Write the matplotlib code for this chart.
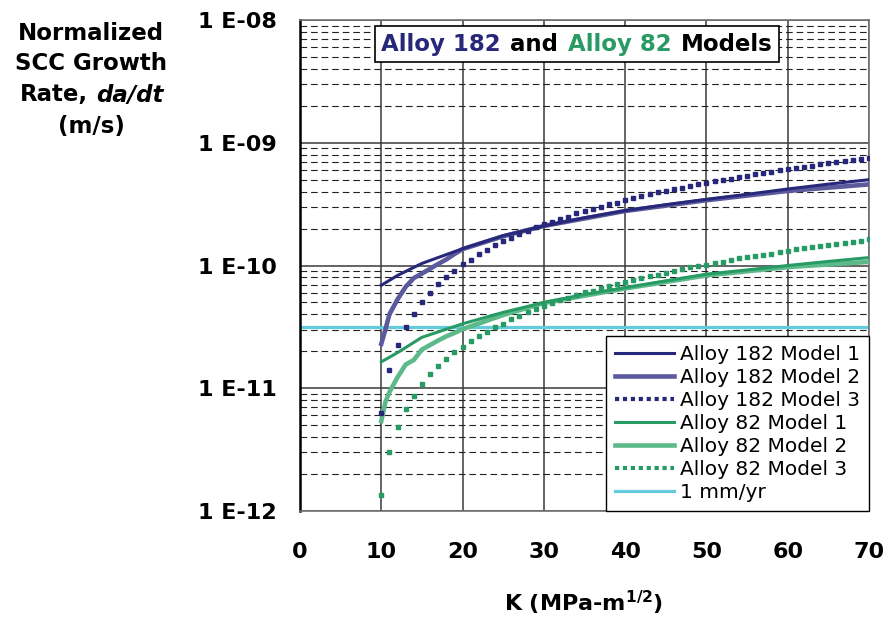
import numpy as np
import matplotlib
matplotlib.use('Agg')
import matplotlib.pyplot as plt
from matplotlib.ticker import LogLocator, FuncFormatter, NullFormatter, MultipleLocator
from matplotlib.lines import Line2D
from matplotlib.offsetbox import TextArea, HPacker, AnchoredOffsetbox

# --- data (K in MPa-m^1/2, da/dt in m/s) ---
k_m1 = [10, 12, 15, 20, 25, 30, 35, 40, 45, 50, 55, 60, 65, 70]
a182_m1 = [6.9e-11, 8.3e-11, 1.04e-10, 1.37e-10, 1.75e-10, 2.1e-10, 2.45e-10,
           2.8e-10, 3.13e-10, 3.46e-10, 3.8e-10, 4.2e-10, 4.6e-10, 5.0e-10]
a82_m1 = [1.64e-11, 1.95e-11, 2.6e-11, 3.35e-11, 4.15e-11, 5.0e-11, 5.8e-11,
          6.6e-11, 7.5e-11, 8.5e-11, 9.2e-11, 1.0e-10, 1.08e-10, 1.16e-10]

k_m2 = [10, 10.5, 11, 12, 13, 14, 15, 16, 17, 18, 19, 20, 25, 30, 40, 50, 60, 70]
a182_m2 = [2.3e-11, 3.0e-11, 4.0e-11, 5.3e-11, 6.7e-11, 7.9e-11, 8.6e-11, 9.4e-11, 1.03e-10,
           1.12e-10, 1.24e-10, 1.36e-10, 1.73e-10, 2.1e-10, 2.78e-10, 3.4e-10, 4.05e-10, 4.58e-10]
a82_m2 = [5.4e-12, 7.7e-12, 9.3e-12, 1.23e-11, 1.56e-11, 1.7e-11, 2.07e-11, 2.25e-11, 2.45e-11,
          2.65e-11, 2.82e-11, 3.03e-11, 3.95e-11, 4.95e-11, 6.5e-11, 8.3e-11, 9.7e-11, 1.07e-10]

k_m3 = list(range(10, 71))
a182_m3 = [6.3e-12, 1.41e-11, 2.26e-11, 3.17e-11, 4.05e-11, 5.06e-11, 5.98e-11, 7.05e-11, 8.04e-11, 9.04e-11,
           1.03e-10, 1.11e-10, 1.24e-10, 1.34e-10, 1.46e-10, 1.59e-10, 1.69e-10, 1.79e-10, 1.91e-10, 2.04e-10,
           2.17e-10, 2.26e-10, 2.38e-10, 2.48e-10, 2.66e-10, 2.78e-10, 2.90e-10, 3.02e-10, 3.17e-10, 3.23e-10,
           3.40e-10, 3.57e-10, 3.66e-10, 3.82e-10, 3.96e-10, 4.05e-10, 4.20e-10, 4.28e-10, 4.47e-10, 4.58e-10,
           4.70e-10, 4.88e-10, 4.97e-10, 5.06e-10, 5.26e-10, 5.40e-10, 5.52e-10, 5.66e-10, 5.77e-10, 5.96e-10,
           6.10e-10, 6.18e-10, 6.38e-10, 6.50e-10, 6.70e-10, 6.79e-10, 6.95e-10, 7.05e-10, 7.18e-10, 7.31e-10,
           7.45e-10]
a82_m3 = [1.36e-12, 3.03e-12, 4.79e-12, 6.82e-12, 8.71e-12, 1.08e-11, 1.30e-11, 1.53e-11, 1.73e-11, 1.96e-11,
          2.18e-11, 2.41e-11, 2.68e-11, 2.88e-11, 3.17e-11, 3.35e-11, 3.64e-11, 3.89e-11, 4.15e-11, 4.39e-11,
          4.67e-11, 4.91e-11, 5.22e-11, 5.42e-11, 5.74e-11, 6.07e-11, 6.21e-11, 6.53e-11, 6.82e-11, 7.08e-11,
          7.36e-11, 7.55e-11, 7.89e-11, 8.18e-11, 8.39e-11, 8.71e-11, 9.10e-11, 9.33e-11, 9.68e-11, 9.93e-11,
          1.01e-10, 1.05e-10, 1.06e-10, 1.10e-10, 1.15e-10, 1.17e-10, 1.20e-10, 1.22e-10, 1.25e-10, 1.29e-10,
          1.32e-10, 1.36e-10, 1.38e-10, 1.41e-10, 1.44e-10, 1.48e-10, 1.50e-10, 1.53e-10, 1.56e-10, 1.58e-10,
          1.63e-10]

k_ref = [0, 70]
mm_per_yr = [3.17e-11, 3.17e-11]

NAVY, NAVY2 = '#27287A', '#5A5A9C'
GREEN, GREEN2 = '#289A63', '#5CB98A'
CYAN = '#62CBDC'

plt.rcParams['font.family'] = 'DejaVu Sans'
plt.rcParams['font.weight'] = 'bold'

fig = plt.figure(figsize=(8.9, 6.21), dpi=100)
ax = fig.add_axes([300/890, 1-511/621, 569/890, 491/621])

ax.plot(k_ref, mm_per_yr, color=CYAN, lw=2.3, zorder=2, label='1 mm/yr')
ax.plot(k_m2, a182_m2, color=NAVY2, lw=3.3, zorder=3, label='Alloy 182 Model 2')
ax.plot(k_m1, a182_m1, color=NAVY, lw=2.2, zorder=4, label='Alloy 182 Model 1')
ax.plot(k_m3, a182_m3, ls='none', marker='s', ms=3.5, color=NAVY, mec=NAVY, zorder=4)
ax.plot(k_m2, a82_m2, color=GREEN2, lw=3.3, zorder=3, label='Alloy 82 Model 2')
ax.plot(k_m1, a82_m1, color=GREEN, lw=2.2, zorder=4, label='Alloy 82 Model 1')
ax.plot(k_m3, a82_m3, ls='none', marker='s', ms=3.5, color=GREEN, mec=GREEN, zorder=4)

ax.set_yscale('log')
ax.set_xlim(0, 70); ax.set_ylim(1e-12, 1e-8)
ax.xaxis.set_major_locator(MultipleLocator(10))
ax.yaxis.set_major_locator(LogLocator(base=10, numticks=10))
ax.yaxis.set_minor_locator(LogLocator(base=10, subs=np.arange(2, 10), numticks=40))
ax.yaxis.set_minor_formatter(NullFormatter())
ax.yaxis.set_major_formatter(FuncFormatter(lambda v, p: f"1 E-{-int(round(np.log10(v))):02d}"))
ax.set_axisbelow(True)
ax.grid(which='major', axis='both', color='#3a3a3a', lw=1.1, ls='-')
ax.grid(which='minor', axis='y', color='#222222', lw=0.8, ls=(0, (6, 3.5)))
ax.tick_params(which='both', length=0)
ax.tick_params(axis='y', labelsize=16, pad=17)
ax.tick_params(axis='x', labelsize=16, pad=22)
for sp in ax.spines.values():
    sp.set_color('#707070'); sp.set_linewidth(1.2)
ax.spines['left'].set_color('black'); ax.spines['left'].set_linewidth(1.8)

# legend
hand = [Line2D([], [], color=NAVY, lw=2.2),
        Line2D([], [], color=NAVY2, lw=3.3),
        Line2D([], [], color=NAVY, lw=3, ls=(0, (1, 0.9))),
        Line2D([], [], color=GREEN, lw=2.2),
        Line2D([], [], color=GREEN2, lw=3.3),
        Line2D([], [], color=GREEN, lw=3, ls=(0, (1, 0.9))),
        Line2D([], [], color=CYAN, lw=2.3)]
labs = ['Alloy 182 Model 1', 'Alloy 182 Model 2', 'Alloy 182 Model 3',
        'Alloy 82 Model 1', 'Alloy 82 Model 2', 'Alloy 82 Model 3', '1 mm/yr']
leg = ax.legend(hand, labs, loc='lower right', bbox_to_anchor=(1, 0), borderaxespad=0,
                prop={'weight': 'normal', 'size': 14.5}, frameon=True, fancybox=False,
                edgecolor='black', framealpha=1, handlelength=2.9, handletextpad=0.3,
                labelspacing=0.2, borderpad=0.45)
leg.get_frame().set_linewidth(1.0)
leg.set_zorder(6)

# title box with coloured words
parts = [('Alloy 182', NAVY), ('and', 'black'), ('Alloy 82', GREEN), ('Models', 'black')]
tas = [TextArea(t, textprops=dict(color=c, fontsize=16.5, fontweight='bold')) for t, c in parts]
box = HPacker(children=tas, align='baseline', pad=0, sep=7)
ab = AnchoredOffsetbox(loc='center', child=box, pad=0.45, borderpad=0, frameon=True,
                       bbox_to_anchor=(0.487, 0.951), bbox_transform=ax.transAxes)
ab.patch.set_edgecolor('black'); ab.patch.set_linewidth(1.2)
ab.set_zorder(6)
ax.add_artist(ab)

# axis titles
fs = 16.5
fig.text(91/890, 1-33/621, 'Normalized', ha='center', va='center', fontsize=fs)
fig.text(91/890, 1-64/621, 'SCC Growth', ha='center', va='center', fontsize=fs)
fig.text(88/890, 1-95/621, 'Rate,', ha='right', va='center', fontsize=fs)
fig.text(96/890, 1-95/621, 'da/dt', ha='left', va='center', fontsize=fs, style='italic')
fig.text(91/890, 1-126/621, '(m/s)', ha='center', va='center', fontsize=fs)
fig.text(583/890, 1-603/621, r'K (MPa-m$^{\mathbf{1/2}}$)', ha='center', va='center', fontsize=16)

fig.savefig('out.png', dpi=100)
